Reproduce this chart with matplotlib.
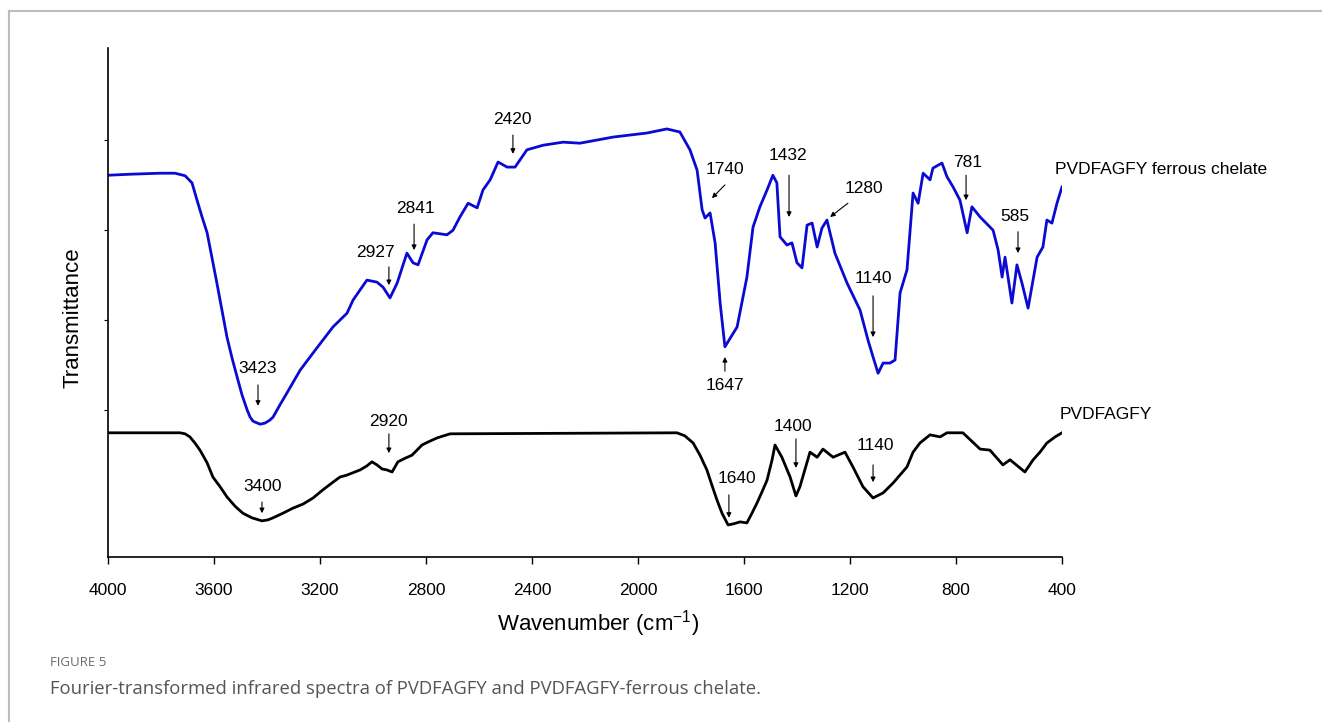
import matplotlib
matplotlib.use("Agg")
import matplotlib.pyplot as plt
from matplotlib.lines import Line2D

plt.rcParams["font.family"] = ["Liberation Sans", "DejaVu Sans"]
plt.rcParams["mathtext.fontset"] = "custom"
plt.rcParams["mathtext.rm"] = "Liberation Sans"
plt.rcParams["mathtext.it"] = "Liberation Sans:italic"

# PVDFAGFY ferrous chelate (blue), transmittance in arbitrary units
chelate_wn = [4000, 3917, 3804, 3747, 3709, 3683, 3664, 3645, 3626, 3608,
              3589, 3570, 3551, 3532, 3513, 3494, 3475, 3464, 3453, 3445,
              3426, 3408, 3389, 3377, 3351, 3325, 3275, 3226, 3151, 3098,
              3075, 3023, 2985, 2962, 2936, 2909, 2872, 2849, 2830, 2796,
              2774, 2721, 2698, 2672, 2641, 2607, 2585, 2558, 2528, 2494,
              2464, 2419, 2358, 2283, 2219, 2094, 1966, 1891, 1842, 1804,
              1777, 1758, 1747, 1728, 1709, 1690, 1672, 1626, 1589, 1566,
              1540, 1513, 1491, 1476, 1464, 1438, 1419, 1400, 1381, 1362,
              1343, 1324, 1306, 1287, 1257, 1211, 1162, 1132, 1113, 1094,
              1075, 1049, 1030, 1011, 985, 962, 943, 924, 898, 887,
              853, 834, 811, 785, 758, 740, 709, 660, 641, 626,
              615, 589, 570, 551, 528, 494, 472, 457, 438, 419, 400]
chelate_t = [75.0, 75.2, 75.4, 75.4, 74.9, 73.5, 70.1, 66.8, 63.7, 58.9,
             53.8, 48.5, 43.2, 39.1, 35.4, 31.8, 28.9, 27.5, 26.7, 26.5,
             26.1, 26.3, 26.9, 27.5, 29.9, 32.2, 36.7, 40.1, 45.2, 47.9,
             50.5, 54.4, 54.0, 53.0, 50.9, 53.8, 59.7, 57.8, 57.4, 62.3,
             63.7, 63.3, 64.2, 66.8, 69.5, 68.6, 72.1, 74.1, 77.6, 76.6,
             76.6, 80.0, 80.9, 81.5, 81.3, 82.5, 83.3, 84.1, 83.5, 80.0,
             76.0, 68.2, 66.6, 67.6, 61.7, 49.9, 41.3, 45.2, 55.0, 64.8,
             68.8, 72.1, 75.0, 73.5, 62.9, 61.3, 61.7, 57.8, 56.8, 65.2,
             65.6, 60.9, 64.6, 66.2, 59.7, 53.8, 48.5, 42.6, 39.3, 36.1,
             38.1, 38.1, 38.7, 51.9, 56.4, 71.5, 69.5, 75.4, 74.1, 76.4,
             77.4, 74.7, 72.7, 70.1, 63.7, 68.8, 66.8, 64.2, 60.3, 55.0,
             58.9, 49.9, 57.4, 53.8, 48.9, 58.9, 60.9, 66.2, 65.6, 69.5, 72.7]

# PVDFAGFY (black)
peptide_wn = [4000, 3728, 3709, 3691, 3672, 3653, 3626, 3604, 3577, 3551,
              3521, 3491, 3457, 3419, 3396, 3377, 3340, 3302, 3264, 3226,
              3189, 3151, 3125, 3098, 3049, 3023, 3004, 2985, 2966, 2947,
              2928, 2917, 2906, 2879, 2853, 2834, 2815, 2792, 2758, 2709,
              1853, 1823, 1792, 1766, 1740, 1721, 1702, 1683, 1660, 1641,
              1615, 1589, 1570, 1551, 1532, 1513, 1494, 1483, 1457, 1426,
              1404, 1389, 1351, 1324, 1302, 1264, 1219, 1189, 1151, 1113,
              1075, 1038, 985, 962, 936, 898, 860, 834, 774, 709,
              672, 623, 596, 540, 509, 483, 457, 426, 400]
peptide_t = [24.4, 24.4, 24.2, 23.6, 22.4, 21.0, 18.5, 15.7, 13.8, 11.8,
             10.0, 8.6, 7.7, 7.1, 7.3, 7.7, 8.6, 9.6, 10.4, 11.6,
             13.2, 14.7, 15.7, 16.1, 17.1, 17.9, 18.7, 18.1, 17.3, 17.1,
             16.7, 17.7, 18.7, 19.4, 20.0, 21.0, 22.0, 22.6, 23.4, 24.2,
             24.4, 23.8, 22.4, 20.0, 17.1, 14.1, 11.2, 8.6, 6.3, 6.5,
             6.9, 6.7, 8.6, 10.6, 12.8, 15.1, 19.1, 22.0, 19.6, 15.7,
             12.0, 13.8, 20.6, 19.6, 21.2, 19.6, 20.6, 17.7, 13.8, 11.6,
             12.6, 14.5, 17.7, 20.6, 22.4, 24.0, 23.6, 24.4, 24.4, 21.2,
             21.0, 18.1, 19.1, 16.7, 19.1, 20.6, 22.4, 23.6, 24.4]

# peak labels: text, text position (wn, T), arrow start, arrow tip
chelate_peaks = [
    ("3423", (3434, 37.1), (3434, 33.8), (3434, 29.7)),
    ("2927", (2992, 59.9), (2940, 57.0), (2940, 53.4)),
    ("2841", (2841, 68.4), (2845, 65.4), (2845, 60.3)),
    ("2420", (2475, 85.9), (2472, 82.9), (2472, 79.2)),
    ("1740", (1672, 76.2), (1672, 73.1), (1721, 70.5)),
    ("1432", (1434, 78.8), (1430, 75.0), (1430, 66.8)),
    ("1280", (1147, 72.3), (1208, 69.5), (1275, 66.8)),
    ("1140", (1113, 54.8), (1113, 51.3), (1113, 43.2)),
    ("1647", (1672, 33.6), (1672, 36.5), (1672, 39.3)),
    ("781", (755, 77.6), (762, 75.0), (762, 70.1)),
    ("585", (577, 66.8), (566, 63.9), (566, 59.7)),
]
peptide_peaks = [
    ("3400", (3415, 13.8), (3419, 10.8), (3419, 8.6)),
    ("2920", (2940, 26.7), (2940, 24.2), (2940, 20.4)),
    ("1640", (1626, 15.5), (1657, 12.2), (1657, 7.7)),
    ("1400", (1415, 25.7), (1404, 23.2), (1404, 17.5)),
    ("1140", (1106, 22.0), (1113, 18.1), (1113, 14.7)),
]

x_ticks = [4000, 3600, 3200, 2800, 2400, 2000, 1600, 1200, 800, 400]
y_ticks = [28.9, 46.6, 64.3, 82.0]

fig = plt.figure(figsize=(13.22, 7.22), dpi=100)
ax = fig.add_axes([108 / 1322, 1 - 557 / 722, 954 / 1322, 509 / 722])

ax.plot(chelate_wn, chelate_t, color="#0a0ad2", lw=2.0, solid_joinstyle="round")
ax.plot(peptide_wn, peptide_t, color="black", lw=2.0, solid_joinstyle="round")

arrow_kw = dict(arrowstyle="-|>", color="black", lw=0.8, mutation_scale=7,
                shrinkA=0, shrinkB=0)
for label, txt, start, tip in chelate_peaks + peptide_peaks:
    ax.text(txt[0], txt[1], label, ha="center", va="center", fontsize=12.5)
    ax.annotate("", xy=tip, xytext=start, arrowprops=arrow_kw)

ax.text(426, 76.2, "PVDFAGFY ferrous chelate", ha="left", va="center", fontsize=12.5)
ax.text(408, 27.9, "PVDFAGFY", ha="left", va="center", fontsize=12.5)

ax.set_xlim(4000, 400)
ax.set_ylim(0, 100)
ax.set_xticks(x_ticks)
ax.set_xticklabels([str(t) for t in x_ticks], fontsize=12.5)
ax.get_xticklabels()[-1].set_x(435)
ax.set_yticks(y_ticks)
ax.set_yticklabels([])
ax.tick_params(axis="x", direction="out", length=5, width=1, pad=14)
ax.tick_params(axis="y", direction="out", length=3, width=0.8)
for side in ("top", "right"):
    ax.spines[side].set_visible(False)
for side in ("left", "bottom"):
    ax.spines[side].set_linewidth(1.2)
ax.patch.set_alpha(0)

fig.text(598 / 1322, 1 - 624 / 722, "Wavenumber (cm$^{-1}$)", ha="center",
         va="center", fontsize=16)
fig.text(73 / 1322, 1 - 318 / 722, "Transmittance", ha="center", va="center",
         rotation=90, fontsize=16)

# page frame and caption
fig.add_artist(Line2D([9 / 1322, 9 / 1322], [0, 1 - 11 / 722],
                      transform=fig.transFigure, color="#bdbdbd", lw=1.5))
fig.add_artist(Line2D([9 / 1322, 1], [1 - 11 / 722, 1 - 11 / 722],
                      transform=fig.transFigure, color="#bdbdbd", lw=1.5))
fig.text(50 / 1322, 1 - 662 / 722, "FIGURE 5", ha="left", va="center",
         fontsize=9.5, color="#6b6b6b", family=["Open Sans", "DejaVu Sans"])
fig.text(50 / 1322, 1 - 689 / 722,
         "Fourier-transformed infrared spectra of PVDFAGFY and PVDFAGFY-ferrous chelate.",
         ha="left", va="center", fontsize=13.3, color="#555555",
         family=["Open Sans", "DejaVu Sans"])

fig.savefig("out.png", dpi=100)
